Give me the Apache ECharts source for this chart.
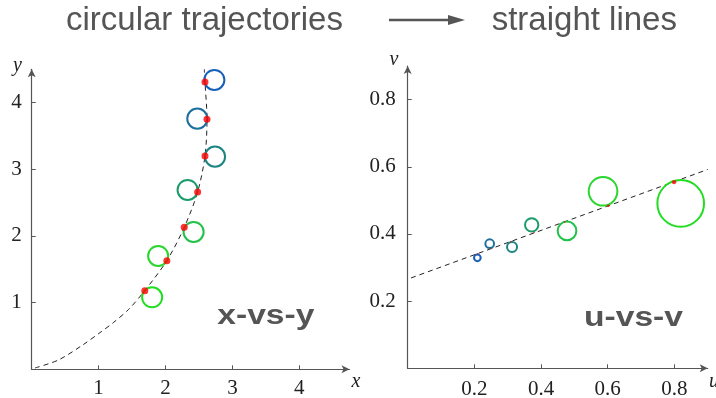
<!DOCTYPE html>
<html lang="en">

<head>
    <meta charset="UTF-8">
    <meta name="viewport" content="width=device-width, initial-scale=1.0">
    <title>circular trajectories to straight lines</title>
    <script src="https://cdn.jsdelivr.net/npm/echarts@6.0.0/dist/echarts.min.js"></script>
    <style>
        html, body { margin: 0; background: #fff; }
    </style>
</head>

<body>
    <div id="main" style="width: 716px;height:398px;"></div>
    <script type="text/javascript">
        // x-vs-y panel: circle centres, red dots on the curve, dashed curve
        const xyX = [2.73, 2.475, 2.74, 2.33, 2.42, 1.89, 1.80];
        const xyY = [4.34, 3.76, 3.19, 2.69, 2.06, 1.70, 1.08];
        const xyRadius = [0.15, 0.15, 0.15, 0.15, 0.15, 0.15, 0.15];
        const xyDotX = [2.59, 2.62, 2.59, 2.48, 2.28, 2.02, 1.69];
        const xyDotY = [4.31, 3.75, 3.20, 2.66, 2.13, 1.63, 1.18];
        const curveX = [0.05, 0.4, 0.77, 1.02, 1.22, 1.45, 1.69, 2.02, 2.28, 2.48, 2.59, 2.62, 2.59, 2.58];
        const curveY = [0.02, 0.14, 0.37, 0.55, 0.70, 0.90, 1.18, 1.63, 2.13, 2.66, 3.20, 3.75, 4.31, 4.50];

        // u-vs-v panel
        const uvU = [0.209, 0.246, 0.313, 0.372, 0.478, 0.586, 0.819];
        const uvV = [0.329, 0.371, 0.361, 0.427, 0.409, 0.527, 0.491];
        const uvRadius = [0.010, 0.013, 0.015, 0.020, 0.028, 0.043, 0.070];
        const uvDotU = [0.210, 0.252, 0.310, 0.379, 0.471, 0.602, 0.799];
        const uvDotV = [0.341, 0.357, 0.377, 0.404, 0.436, 0.484, 0.554];
        const lineU = [0.01, 0.9];
        const lineV = [0.269, 0.592];

        const xyTicks = [1, 2, 3, 4];
        const uvTicks = [0.2, 0.4, 0.6, 0.8];

        // blue (first) to bright green (last)
        const palette = ['#1760b8', '#1d6f9e', '#1b8582', '#1c9c6a', '#22c24a', '#2ad52e', '#22dd22'];

        const axisColor = '#555';
        const labelFont = { fontFamily: 'Liberation Serif', fontSize: 21, color: '#222' };

        function valueAxis(grid, max, ticks, fmt, margin) {
            return {
                type: 'value', gridIndex: grid, min: 0, max: max,
                splitLine: { show: false },
                axisLine: {
                    show: true, onZero: false, symbol: ['none', 'arrow'], symbolSize: [6, 8],
                    lineStyle: { color: axisColor, width: 1.2 }
                },
                axisTick: { show: true, inside: true, length: 4, customValues: ticks, lineStyle: { color: axisColor } },
                axisLabel: Object.assign({ customValues: ticks, margin: margin, formatter: fmt }, labelFont)
            };
        }

        const circles = (xs, ys) => xs.map((x, i) => ({
            value: [x, ys[i]], itemStyle: { borderColor: palette[i] }
        }));
        const pairs = (xs, ys) => xs.map((x, i) => [x, ys[i]]);

        const dash = { color: '#222', width: 1, type: [5, 4] };

        let options = {
            animation: false,
            grid: [
                { left: 31.7, top: 69.3, width: 317.8, height: 300, containLabel: false, outerBoundsMode: 'none' },
                { left: 407.7, top: 66, width: 300, height: 302.3, containLabel: false, outerBoundsMode: 'none' }
            ],
            xAxis: [
                valueAxis(0, 4.75, xyTicks, v => String(v), 9),
                valueAxis(1, 0.9, uvTicks, v => v.toFixed(1), 11)
            ],
            yAxis: [
                valueAxis(0, 4.5, xyTicks, v => String(v), 10),
                valueAxis(1, 0.9, uvTicks, v => v.toFixed(1), 12)
            ],
            series: [
                {
                    id: 'curve', type: 'line', xAxisIndex: 0, yAxisIndex: 0, smooth: 0.3,
                    showSymbol: false, silent: true, z: 2, lineStyle: dash,
                    data: pairs(curveX, curveY)
                },
                {
                    id: 'xyCircles', type: 'scatter', xAxisIndex: 0, yAxisIndex: 0, z: 3, silent: true,
                    itemStyle: { color: 'rgba(0,0,0,0)', borderWidth: 2, opacity: 1 },
                    data: circles(xyX, xyY)
                },
                {
                    id: 'xyDots', type: 'scatter', xAxisIndex: 0, yAxisIndex: 0, z: 4, silent: true,
                    symbolSize: 7, itemStyle: { color: '#ff0000' },
                    data: pairs(xyDotX, xyDotY)
                },
                {
                    id: 'line', type: 'line', xAxisIndex: 1, yAxisIndex: 1,
                    showSymbol: false, silent: true, z: 2, lineStyle: dash,
                    data: pairs(lineU, lineV)
                },
                {
                    id: 'uvCircles', type: 'scatter', xAxisIndex: 1, yAxisIndex: 1, z: 3, silent: true,
                    itemStyle: { color: 'rgba(0,0,0,0)', borderWidth: 2, opacity: 1 },
                    data: circles(uvU, uvV)
                },
                {
                    id: 'uvDots', type: 'scatter', xAxisIndex: 1, yAxisIndex: 1, z: 4, silent: true,
                    itemStyle: { color: '#ff0000' },
                    data: pairs(uvDotU, uvDotV)
                }
            ],
            graphic: [
                // heading
                { type: 'text', x: 66, y: 21, style: { text: 'circular trajectories', font: '33px "Liberation Sans"', fill: '#555', verticalAlign: 'middle' } },
                { type: 'line', shape: { x1: 389, y1: 20, x2: 452, y2: 20 }, style: { stroke: '#555', lineWidth: 2.3 } },
                { type: 'polygon', shape: { points: [[448, 15], [465, 20], [448, 25]] }, style: { fill: '#555' } },
                { type: 'text', x: 491.7, y: 21, style: { text: 'straight lines', font: '33px "Liberation Sans"', fill: '#555', verticalAlign: 'middle' } },
                // panel labels
                { type: 'text', x: 217.3, y: 316, scaleX: 1.2, style: { text: 'x-vs-y', font: 'bold 28px "Liberation Sans"', fill: '#555', verticalAlign: 'middle' } },
                { type: 'text', x: 584, y: 318, scaleX: 1.2, style: { text: 'u-vs-v', font: 'bold 28px "Liberation Sans"', fill: '#555', verticalAlign: 'middle' } },
                // axis names
                { type: 'text', x: 17.5, y: 66, style: { text: 'y', font: 'italic 20px "Liberation Serif"', fill: '#222', align: 'center', verticalAlign: 'middle' } },
                { type: 'text', x: 356, y: 382, style: { text: 'x', font: 'italic 20px "Liberation Serif"', fill: '#222', align: 'center', verticalAlign: 'middle' } },
                { type: 'text', x: 394, y: 60, style: { text: 'v', font: 'italic 20px "Liberation Serif"', fill: '#222', align: 'center', verticalAlign: 'middle' } },
                { type: 'text', x: 714, y: 382, style: { text: 'u', font: 'italic 20px "Liberation Serif"', fill: '#222', align: 'center', verticalAlign: 'middle' } }
            ]
        };

        let myChart = echarts.init(document.getElementById('main'));
        myChart.setOption(options);

        // circle radii are in axis units, so turn them into pixels with the axes' own scale
        const px = (grid, d) => myChart.convertToPixel({ gridIndex: grid }, [d, 0])[0] - myChart.convertToPixel({ gridIndex: grid }, [0, 0])[0];
        myChart.setOption({
            series: [
                { id: 'xyCircles', symbolSize: (v, p) => 2 * px(0, xyRadius[p.dataIndex]) },
                { id: 'uvCircles', symbolSize: (v, p) => 2 * px(1, uvRadius[p.dataIndex]) },
                { id: 'uvDots', symbolSize: (v, p) => Math.max(1.5, 0.18 * px(1, uvRadius[p.dataIndex])) }
            ]
        });
    </script>
</body>

</html>
